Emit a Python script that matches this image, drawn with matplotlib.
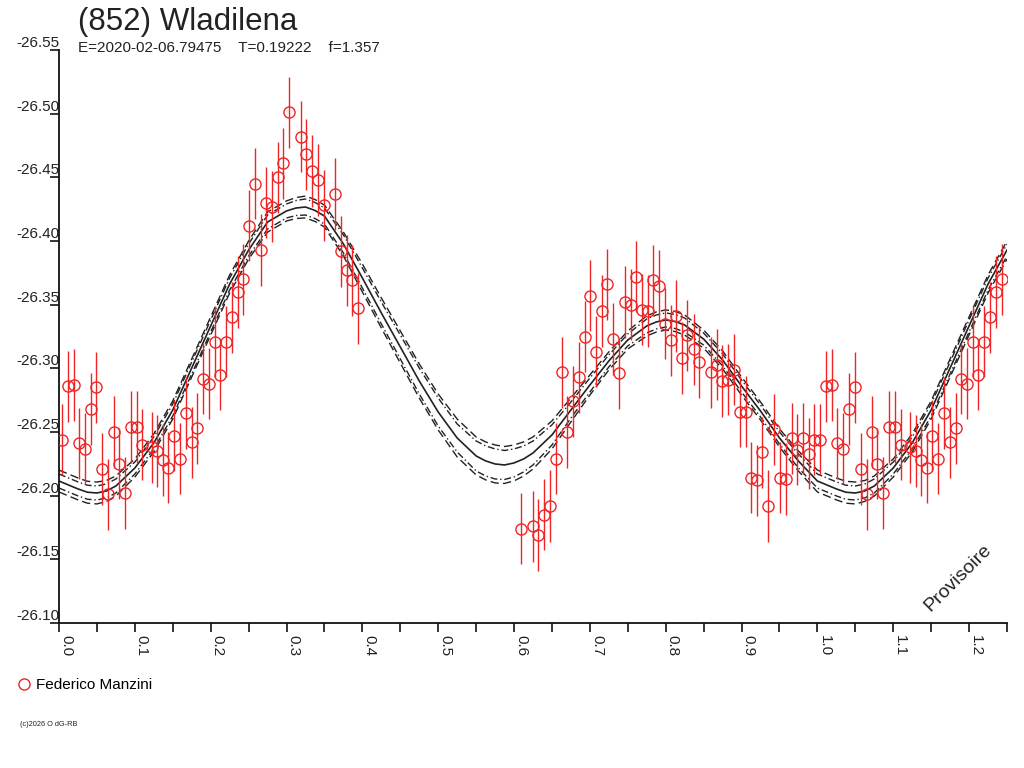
import numpy as np
import matplotlib
matplotlib.use('Agg')
import matplotlib.pyplot as plt
from matplotlib.lines import Line2D

plt.rcParams['font.family'] = ['Liberation Sans', 'DejaVu Sans']

RED = '#f02424'

# observations: rotational phase and reduced magnitude
phase = [
    0.0036, 0.0115, 0.0198, 0.0264, 0.0343, 0.0418, 0.0492, 0.0571, 0.0650, 0.0725,
    0.0791, 0.0870, 0.0949, 0.1024, 0.1098, 0.1222, 0.1296, 0.1367, 0.1441, 0.1516,
    0.1595, 0.1674, 0.1749, 0.1823, 0.1898, 0.1977, 0.2056, 0.2122, 0.2201, 0.2277,
    0.2356, 0.2430, 0.2505, 0.2580, 0.2659, 0.2735, 0.2810, 0.2883, 0.2957, 0.3036,
    0.3186, 0.3263, 0.3338, 0.3412, 0.3491, 0.3641, 0.3717, 0.3793, 0.3866, 0.3945,
    0.6090, 0.6244, 0.6318, 0.6397, 0.6472, 0.6548, 0.6627, 0.6701, 0.6780, 0.6851,
    0.6930, 0.7004, 0.7079, 0.7154, 0.7228, 0.7307, 0.7382, 0.7457, 0.7536, 0.7610,
    0.7681, 0.7760, 0.7834, 0.7913, 0.7988, 0.8064, 0.8137, 0.8210, 0.8285, 0.8368,
    0.8441, 0.8595, 0.8670, 0.8744, 0.8823, 0.8898, 0.8973, 0.9052, 0.9126, 0.9201,
    0.9276, 0.9353, 0.9429, 0.9504, 0.9580, 0.9659, 0.9732, 0.9808, 0.9883, 0.9957,
]
mag = [
    -26.244, -26.286, -26.287, -26.241, -26.237, -26.268, -26.285, -26.221, -26.201, -26.250,
    -26.225, -26.202, -26.254, -26.254, -26.240, -26.238, -26.235, -26.228, -26.222, -26.247,
    -26.229, -26.265, -26.242, -26.253, -26.292, -26.288, -26.321, -26.295, -26.321, -26.340,
    -26.360, -26.370, -26.412, -26.445, -26.393, -26.430, -26.427, -26.450, -26.461, -26.501,
    -26.482, -26.468, -26.455, -26.448, -26.428, -26.437, -26.392, -26.377, -26.369, -26.347,
    -26.174, -26.176, -26.169, -26.185, -26.192, -26.229, -26.297, -26.250, -26.274, -26.293,
    -26.325, -26.357, -26.313, -26.345, -26.366, -26.323, -26.296, -26.352, -26.350, -26.372,
    -26.346, -26.345, -26.369, -26.365, -26.335, -26.322, -26.341, -26.308, -26.326, -26.315,
    -26.305, -26.297, -26.303, -26.290, -26.291, -26.299, -26.266, -26.266, -26.214, -26.212,
    -26.234, -26.192, -26.252, -26.214, -26.213, -26.245, -26.236, -26.245, -26.233, -26.244,
]
mag_err = 0.028

# fitted light curve, with two uncertainty envelopes
curve_phase = [
    0.000, 0.025, 0.0375, 0.050, 0.0625, 0.075, 0.100, 0.125, 0.150, 0.175,
    0.200, 0.225, 0.250, 0.275, 0.300, 0.3125, 0.325, 0.3375, 0.350, 0.375,
    0.400, 0.425, 0.450, 0.475, 0.500, 0.525, 0.550, 0.5625, 0.575, 0.5875,
    0.600, 0.6125, 0.625, 0.650, 0.675, 0.700, 0.725, 0.750, 0.775, 0.7875,
    0.800, 0.8125, 0.825, 0.850, 0.875, 0.900, 0.925, 0.950, 0.975, 1.000,
]
curve_mag = [
    -26.2115, -26.2053, -26.2027, -26.2021, -26.2037, -26.2076, -26.2217, -26.2414, -26.2673, -26.3003,
    -26.3333, -26.3662, -26.3929, -26.4149, -26.4236, -26.4259, -26.4267, -26.4240, -26.4196, -26.3977,
    -26.3710, -26.3435, -26.3168, -26.2901, -26.2657, -26.2453, -26.2312, -26.2273, -26.2249, -26.2241,
    -26.2257, -26.2288, -26.2335, -26.2477, -26.2673, -26.2869, -26.3058, -26.3223, -26.3333, -26.3364,
    -26.3380, -26.3368, -26.3340, -26.3230, -26.3066, -26.2861, -26.2665, -26.2453, -26.2272, -26.2115,
]
band_inner = [
    0.0055, 0.0055, 0.0055, 0.0055, 0.0055, 0.0055, 0.0047, 0.0047, 0.0047, 0.0047,
    0.0047, 0.0047, 0.0047, 0.0055, 0.0055, 0.0059, 0.0063, 0.0063, 0.0063, 0.0071,
    0.0079, 0.0086, 0.0094, 0.0102, 0.0110, 0.0110, 0.0118, 0.0118, 0.0118, 0.0114,
    0.0110, 0.0102, 0.0094, 0.0079, 0.0063, 0.0055, 0.0047, 0.0047, 0.0055, 0.0055,
    0.0055, 0.0055, 0.0055, 0.0047, 0.0047, 0.0047, 0.0047, 0.0047, 0.0055, 0.0055,
]
band_outer = [
    0.0086, 0.0086, 0.0086, 0.0086, 0.0082, 0.0079, 0.0071, 0.0071, 0.0071, 0.0071,
    0.0071, 0.0071, 0.0071, 0.0079, 0.0079, 0.0082, 0.0086, 0.0086, 0.0086, 0.0094,
    0.0110, 0.0118, 0.0126, 0.0134, 0.0141, 0.0149, 0.0149, 0.0149, 0.0149, 0.0145,
    0.0141, 0.0134, 0.0126, 0.0110, 0.0094, 0.0079, 0.0071, 0.0071, 0.0079, 0.0079,
    0.0079, 0.0079, 0.0079, 0.0071, 0.0071, 0.0071, 0.0071, 0.0071, 0.0079, 0.0086,
]

# phase folded plot runs to 1.25: repeat the start of the cycle
ph = np.array(phase)
mg = np.array(mag)
rep = ph < 0.25
ph_all = np.concatenate([ph, ph[rep] + 1])
mg_all = np.concatenate([mg, mg[rep]])

cp = np.array(curve_phase)
crep = (cp > 0) & (cp <= 0.25)
cp_all = np.concatenate([cp, cp[crep] + 1])
cm_all = np.concatenate([curve_mag, np.array(curve_mag)[crep]])
bi_all = np.concatenate([band_inner, np.array(band_inner)[crep]])
bo_all = np.concatenate([band_outer, np.array(band_outer)[crep]])

fig = plt.figure(figsize=(10.24, 7.68), dpi=100)
ax = fig.add_axes([59 / 1024, 145 / 768, 948 / 1024, 573 / 768])

ax.errorbar(ph_all, mg_all, yerr=mag_err, fmt='o', ms=8, mfc='none', mec=RED,
            mew=1.0, ecolor=RED, elinewidth=1.0, capsize=0, zorder=3)

lc = '#222222'
ax.plot(cp_all, cm_all, color=lc, lw=1.2, zorder=2)
for sgn in (-1, 1):
    ax.plot(cp_all, cm_all + sgn * bi_all, color=lc, lw=1.0,
            dashes=(5, 2, 1, 2), zorder=2)
    ax.plot(cp_all, cm_all + sgn * bo_all, color=lc, lw=1.0,
            dashes=(6, 3), zorder=2)

ax.set_xlim(0, 1.25)
ax.set_ylim(-26.10, -26.55)
for s in ('top', 'right'):
    ax.spines[s].set_visible(False)
for s in ('left', 'bottom'):
    ax.spines[s].set_linewidth(1.3)
    ax.spines[s].set_color('#111111')

ax.set_xticks(np.arange(0, 1.21, 0.1))
ax.set_xticks(np.arange(0.05, 1.26, 0.1), minor=True)
ax.set_xticklabels(['%.1f' % v for v in np.arange(0, 1.21, 0.1)],
                   rotation=-90, ha='left', va='top', fontsize=11, color='#222222')
ax.tick_params(axis='x', which='both', direction='out', length=6.5, width=1.1,
               pad=2)

yt = np.arange(-26.55, -26.09, 0.05)
ax.set_yticks(yt)
ax.set_yticklabels(['%.2f' % v for v in yt], va='bottom', fontsize=11,
                   color='#222222')
ax.tick_params(axis='y', direction='out', length=6.5, width=1.1, pad=-7)

fig.text(78 / 1024, 1 - 7 / 768, '(852) Wladilena', fontsize=22.5, va='top',
         color='#222222')
fig.text(78 / 1024, 1 - 41 / 768,
         'E=2020-02-06.79475    T=0.19222    f=1.357', fontsize=11, va='top',
         color='#222222')

ax.text(958, 768 - 578, 'Provisoire', transform=None, fontsize=14, rotation=45,
        ha='center', va='center', color='#222222')

handle = Line2D([], [], ls='none', marker='o', ms=8, mfc='none', mec=RED, mew=1.0)
fig.legend(handles=[handle], labels=['Federico Manzini'], loc='upper left',
           bbox_to_anchor=(12 / 1024, 1 - 672 / 768), frameon=False, fontsize=11,
           handlelength=0.8, handletextpad=0.4, borderaxespad=0)

fig.text(20 / 1024, 1 - 725 / 768, '(c)2026 O dG-RB', fontsize=5.3,
         va='center', color='#222222')

fig.savefig('out.png', dpi=100)
